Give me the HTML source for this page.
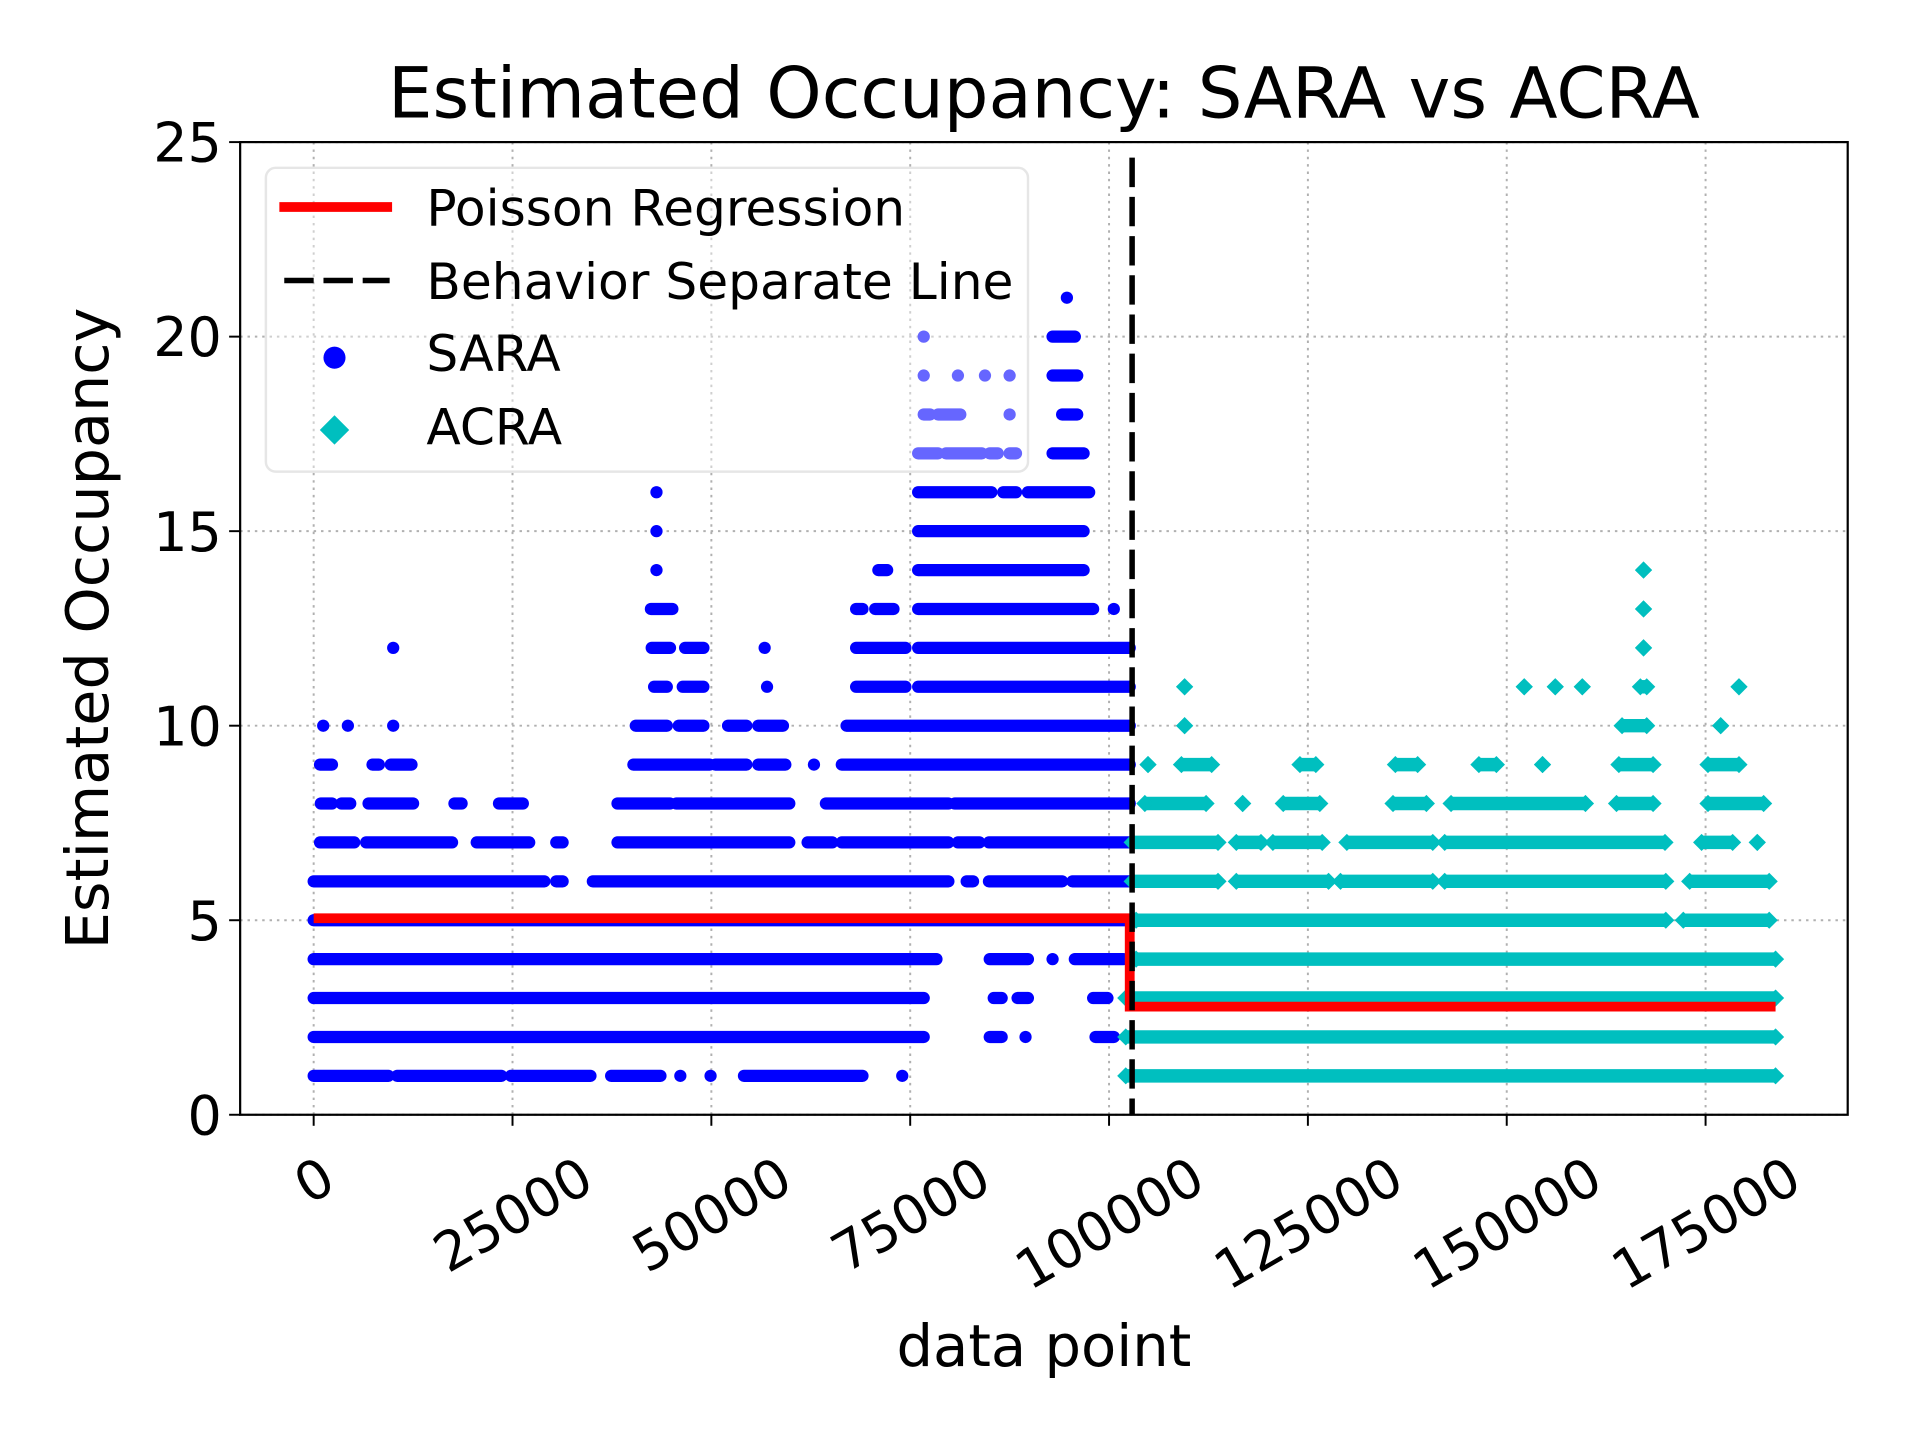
<!DOCTYPE html>
<html><head><meta charset="utf-8"><style>
html,body{margin:0;padding:0;background:#fff;}
svg{display:block;font-family:"DejaVu Sans","Liberation Sans",sans-serif;}
</style></head><body>
<svg id="chart" width="1920" height="1440" viewBox="0 0 1567 1175.5" preserveAspectRatio="none" xmlns="http://www.w3.org/2000/svg">
<rect x="0" y="0" width="1567" height="1175.5" fill="#fff"/>
<g id="grid"></g><g id="marks"></g><g id="axes"></g><g id="legend"></g>
</svg>
<script>
// Data (x in thousands of data points)
const saraLevels = [1,2,3,4,5,6,7,8,9,10,11,12,13,14,15,16,17,18,19,20,21];
const saraRuns = [
 [[0,9.4],[10.5,23.6],[24.8,34.8],[37.4,43.6],[46.1,46.1],[49.9,49.9],[54.1,69],[74,74]],
 [[0,76.7],[85,86.5],[89.5,89.5],[98.3,100.6]],
 [[0,76.7],[85.5,86.5],[88.5,89.8],[98,99.8]],
 [[0,78.3],[85,89.8],[92.9,92.9],[95.7,101.8]],
 [[0,102.6]],
 [[0,29],[30.5,31.3],[35.1,79.8],[82.1,82.9],[84.9,94.1],[95.4,102.6]],
 [[0.8,5.1],[6.6,17.4],[20.5,27.1],[30.5,31.3],[38.2,59.8],[62.1,65.2],[66.4,79.8],[81,83.7],[84.9,102.6]],
 [[0.9,2.3],[3.5,4.6],[6.9,12.5],[17.7,18.6],[23.3,26.3],[38.2,44.8],[45.6,59.8],[64.4,79.8],[80.6,102.6]],
 [[0.8,2.3],[7.4,8.2],[9.7,12.3],[40.2,49.8],[50.5,54.4],[55.9,59.3],[62.9,62.9],[66.4,102.6]],
 [[1.2,1.2],[4.3,4.3],[10,10],[40.5,44.4],[45.9,49],[52.1,54.4],[55.9,59],[67,102.6]],
 [[42.8,44.4],[46.4,49],[57,57],[68.2,74.4],[76,102.6]],
 [[10,10],[42.5,44.8],[46.7,49],[56.7,56.7],[68.2,74.4],[76,102.6]],
 [[42.4,45.1],[68.2,69],[70.6,72.9],[76,98],[100.6,100.6]],
 [[43.1,43.1],[71,72.1],[76,96.8]],
 [[43.1,43.1],[76,96.8]],
 [[43.1,43.1],[76,85.2],[86.7,88.3],[89.8,97.5]],
 [[76,78.5],[79.5,84],[85,86],[87.5,88.3],[92.9,96.8]],
 [[76.7,77.5],[78.5,81.3],[87.5,87.5],[94.1,96]],
 [[76.7,76.7],[81,81],[84.4,84.4],[87.5,87.5],[92.9,96]],
 [[76.7,76.7],[92.9,95.7]],
 [[94.7,94.7]]
];
const acraLevels = [1,2,3,4,5,6,7,8,9,10,11,12,13,14];
const acraRuns = [
 [[102.1,183.8]],
 [[102.1,183.8]],
 [[102.1,183.8]],
 [[103.4,183.8]],
 [[103.4,170],[172.2,183]],
 [[102.9,113.7],[116,127.6],[129.1,140.7],[142.2,170],[173,183]],
 [[102.9,113.7],[116,119.1],[120.6,126.8],[129.9,140.7],[142.2,169.9],[174.5,178.4],[181.5,181.5]],
 [[104.5,112.2],[116.8,116.8],[121.9,126.5],[135.7,139.9],[143,159.9],[163.8,168.4],[175.3,182.3]],
 [[104.9,104.9],[109.1,112.9],[124,126],[136,138.8],[146.5,148.7],[154.5,154.5],[164.1,168.4],[175.3,179.2]],
 [[109.5,109.5],[164.5,167.6],[176.9,176.9]],
 [[109.5,109.5],[152.2,152.2],[156.1,156.1],[159.5,159.5],[166.8,167.6],[179.2,179.2]],
 [[167.2,167.2]],[[167.2,167.2]],[[167.2,167.2]]
];
const regX = [0,102.6,102.6,183.8];
const regY = [5.05,5.05,2.78,2.78];
const separatorX = 102.9;
const xTicks = [0,25000,50000,75000,100000,125000,150000,175000];
const yTicks = [0,5,10,15,20,25];

const NS="http://www.w3.org/2000/svg";
const L=196,R=1508,T=116,B=910;
const sx=v=>256+v*1136/175; // v in thousands
const sy=v=>B-(v/25)*(B-T);
function mk(tag,attrs,parent){const e=document.createElementNS(NS,tag);for(const k in attrs)e.setAttribute(k,attrs[k]);parent.appendChild(e);return e;}
const grid=document.getElementById('grid'),marks=document.getElementById('marks'),axes=document.getElementById('axes'),legend=document.getElementById('legend');

xTicks.forEach(t=>{const x=sx(t/1000);
 const g=mk('line',{x1:x,x2:x,y1:T,y2:B,stroke:'#b0b0b0','stroke-width':1.6,'stroke-dasharray':'2,4'},grid);
 
 
 mk('line',{x1:x,x2:x,y1:B,y2:B+9,stroke:'#000','stroke-width':1.6},axes);
 const n=String(t).length, cy=942+7*n+14;
 const tx=mk('text',{x:x,y:cy+16,'font-size':44,'text-anchor':'middle',transform:`rotate(-30 ${x} ${cy})`},axes);
 tx.textContent=t;
 
 
});
yTicks.forEach(t=>{const y=sy(t);
 const g=mk('line',{x1:L,x2:R,y1:y,y2:y,stroke:'#b0b0b0','stroke-width':1.6,'stroke-dasharray':'2,4'},grid);
 
 
 mk('line',{x1:L-9,x2:L,y1:y,y2:y,stroke:'#000','stroke-width':1.6},axes);
 const tx=mk('text',{x:L-15,y:y+16,'font-size':44,'text-anchor':'end'},axes);
 tx.textContent=t;
 
 
});

saraRuns.forEach((runs,i)=>{const y=sy(saraLevels[i]);runs.forEach(r=>{
 const l=mk('line',{x1:sx(r[0]),x2:sx(r[1]),y1:y,y2:y,stroke:'#0000ff','stroke-width':10,'stroke-linecap':'round'},marks);
 
 
});});
function diamond(cx,cy,p){return mk('polygon',{points:`${cx},${cy-7} ${cx+7},${cy} ${cx},${cy+7} ${cx-7},${cy}`,fill:'#00bfbf'},p);}
acraRuns.forEach((runs,i)=>{const y=sy(acraLevels[i]);runs.forEach(r=>{
 const x1=sx(r[0]),x2=sx(r[1]);
 if(x2>x1){const l=mk('line',{x1:x1,x2:x2,y1:y,y2:y,stroke:'#00bfbf','stroke-width':11},marks);
  
  }
 const d1=diamond(x1,y,marks);
 
 
 const d2=diamond(x2,y,marks);
 
 
});});
const pts=regX.map((v,i)=>sx(v)+','+sy(regY[i])).join(' ');
const reg=mk('polyline',{points:pts,fill:'none',stroke:'#ff0000','stroke-width':8},marks);


const sep=mk('line',{x1:sx(separatorX),x2:sx(separatorX),y1:sy(24.6),y2:B,stroke:'#000','stroke-width':4.5,'stroke-dasharray':'24,8'},marks);



const fr=mk('rect',{x:L,y:T,width:R-L,height:B-T,fill:'none',stroke:'#000','stroke-width':1.8},axes);


const ti=mk('text',{x:852,y:96,'font-size':57.5,'text-anchor':'middle'},axes);
ti.textContent='Estimated Occupancy: SARA vs ACRA';


const xl=mk('text',{x:852,y:1115,'font-size':47,'text-anchor':'middle'},axes);
xl.textContent='data point';


const yl=mk('text',{x:88,y:513,'font-size':48,'text-anchor':'middle',transform:'rotate(-90 88 513)'},axes);
yl.textContent='Estimated Occupancy';



const lb=mk('rect',{x:217,y:137,width:622,height:248,rx:8,fill:'#fff','fill-opacity':0.4,stroke:'#e6e6e6','stroke-width':2},legend);


mk('line',{x1:228,x2:320,y1:169,y2:169,stroke:'#ff0000','stroke-width':8},legend);
mk('line',{x1:232,x2:318,y1:229,y2:229,stroke:'#000','stroke-width':4.5,'stroke-dasharray':'24,8'},legend);
mk('circle',{cx:273,cy:292,r:9,fill:'#0000ff'},legend);
mk('polygon',{points:'273,339 285,351 273,363 261,351',fill:'#00bfbf'},legend);
[['Poisson Regression',184],['Behavior Separate Line',244],['SARA',303],['ACRA',363]].forEach(e=>{
 const t=mk('text',{x:348,y:e[1],'font-size':41},legend);t.textContent=e[0];
 
 
});
</script>
</body></html>
